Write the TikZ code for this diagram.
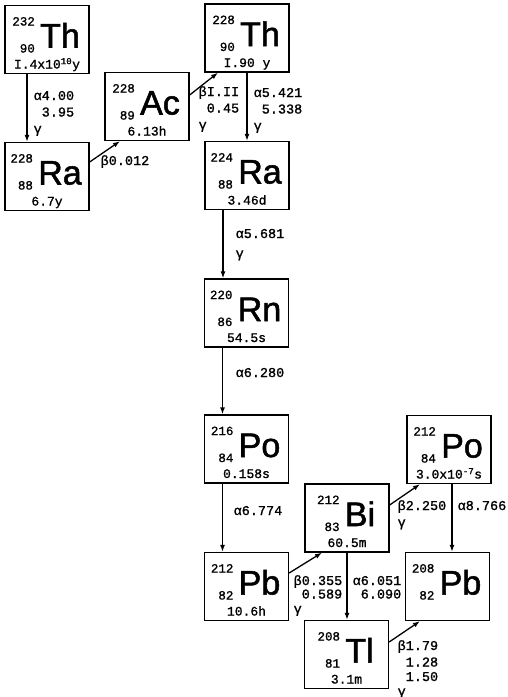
\documentclass[tikz,border=0pt]{standalone}
\usepackage{fontspec}
\setmonofont[FakeBold=1.2]{Liberation Mono}
\newfontfamily\elfont[FakeBold=1.5]{Liberation Sans}
\usetikzlibrary{arrows.meta, positioning, calc}

% one nuclide box: name, centre, mass number, atomic number, symbol, half-life
\newcommand{\nuclide}[6]{%
  \node[nucbox] (#1) at (#2) {};
  \node[elsym, anchor=base] (#1-el) at ([xshift=13pt,yshift=-8pt]#1.center) {#5};
  \node[nucnum, anchor=base east] (#1-a) at ([xshift=-4pt,yshift=22pt]#1-el.base west) {#3};
  \node[nucnum, anchor=base east] (#1-z) at ([xshift=-4pt,yshift=-5pt]#1-el.base west) {#4};
  \node[halflife, anchor=base] (#1-t) at ([yshift=-29pt]#1.center) {#6};
}

\begin{document}
\begin{tikzpicture}[x=1pt, y=-1pt, >={Latex[length=7pt,width=5pt]}, line width=1.3pt,
    nucbox/.style={draw, minimum width=84pt, minimum height=68pt, inner sep=0pt},
    elsym/.style={inner sep=0pt, font=\elfont\fontsize{34}{34}\selectfont},
    nucnum/.style={inner sep=0pt, font=\ttfamily\fontsize{12.5}{13}\selectfont},
    halflife/.style={inner sep=0pt, font=\ttfamily\fontsize{13}{14}\selectfont},
    decay/.style={inner sep=0pt, anchor=base west, font=\ttfamily\fontsize{13.5}{16.5}\selectfont}]
  \useasboundingbox (0,0) rectangle (507,697);

  % boxes
  \nuclide{th232}{47,39.5}{232}{90}{Th}{I.4x10\textsuperscript{10}y}
  \nuclide{ra228}{47,176.5}{228}{88}{Ra}{6.7y}
  \nuclide{ac228}{147,106.5}{228}{89}{Ac}{6.13h}
  \nuclide{th228}{247,38}{228}{90}{Th}{I.90 y}
  \nuclide{ra224}{247,175.5}{224}{88}{Ra}{3.46d}
  \nuclide{rn220}{246.5,313}{220}{86}{Rn}{54.5s}
  \nuclide{po216}{246.5,449}{216}{84}{Po}{0.158s}
  \nuclide{pb212}{246.5,586.5}{212}{82}{Pb}{10.6h}
  \nuclide{bi212}{347,518}{212}{83}{Bi}{60.5m}
  \nuclide{po212}{449,449.5}{212}{84}{Po}{3.0x10\textsuperscript{-7}s}
  \nuclide{pb208}{447.5,586.5}{208}{82}{Pb}{}
  \nuclide{tl208}{346.5,654.5}{208}{81}{Tl}{3.1m}

  % decays
  \draw[->] ([xshift=-20pt]th232.south) -- ([xshift=-20pt]th232.south |- ra228.north);
  \draw[->] ([yshift=14.5pt]ra228.east) -- ([xshift=-27pt]ac228.south);
  \draw[->] ([yshift=11.5pt]ac228.east) -- ([xshift=-29pt]th228.south);
  \draw[->] (th228.south) -- (th228.south |- ra224.north);
  \draw[->] ([xshift=-24pt]ra224.south) -- ([xshift=-24pt]ra224.south |- rn220.north);
  \draw[->] ([xshift=-24pt]rn220.south) -- ([xshift=-24pt]rn220.south |- po216.north);
  \draw[->] ([xshift=-24pt]po216.south) -- ([xshift=-24pt]po216.south |- pb212.north);
  \draw[->] ([yshift=13.5pt]pb212.east) -- ([xshift=-25pt]bi212.south);
  \draw[->] ([yshift=13pt]bi212.east) -- ([xshift=-29pt]po212.south);
  \draw[->] ([xshift=3pt]po212.south) -- ([xshift=3pt]po212.south |- pb208.north);
  \draw[->] (bi212.south) -- (bi212.south |- tl208.north);
  \draw[->] ([yshift=12.5pt]tl208.east) -- ([xshift=-27.5pt]pb208.south);

  % energies
  \node[decay] (e1) at (33,100) {\begin{tabular}[t]{@{}r@{}}α4.00\\3.95\\\multicolumn{1}{@{}l@{}}{γ}\end{tabular}};
  \node[decay] (e2) at (100,165) {β0.012};
  \node[decay] (e3) at (198,96) {\begin{tabular}[t]{@{}r@{}}βI.II\\0.45\\\multicolumn{1}{@{}l@{}}{γ}\end{tabular}};
  \node[decay] (e4) at (253,97) {\begin{tabular}[t]{@{}r@{}}α5.421\\5.338\\\multicolumn{1}{@{}l@{}}{γ}\end{tabular}};
  \node[decay] (e5) at (235,238) {\begin{tabular}[t]{@{}l@{}}α5.681\\[3pt]γ\end{tabular}};
  \node[decay] (e6) at (235,377) {α6.280};
  \node[decay] (e7) at (233,515) {α6.774};
  \node[decay] (e8) at (397,510) {\begin{tabular}[t]{@{}l@{}}β2.250\\γ\end{tabular}};
  \node[decay] (e9) at (457,510) {α8.766};
  \node[decay] (e10) at (293,585) {\begin{tabular}[t]{@{}r@{}}β0.355\\[-3pt]0.589\\[-2pt]\multicolumn{1}{@{}l@{}}{γ}\end{tabular}};
  \node[decay] (e11) at (352,585) {\begin{tabular}[t]{@{}r@{}}α6.051\\[-3pt]6.090\end{tabular}};
  \node[decay] (e12) at (397,650) {\begin{tabular}[t]{@{}r@{}}β1.79\\1.28\\[-2pt]1.50\\[-2pt]\multicolumn{1}{@{}l@{}}{γ}\end{tabular}};
\end{tikzpicture}
\end{document}
